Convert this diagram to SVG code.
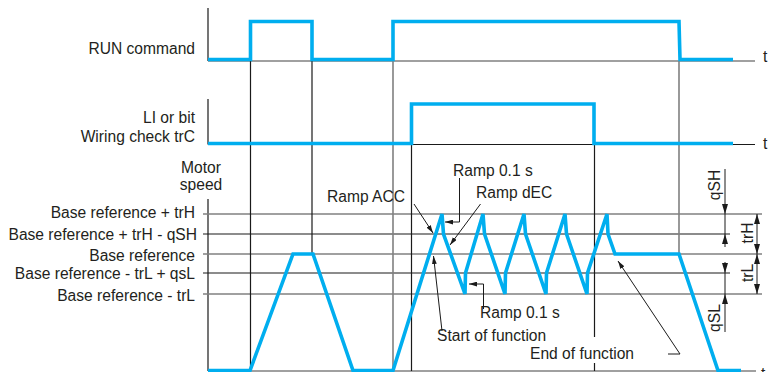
<svg xmlns="http://www.w3.org/2000/svg" width="776" height="372" viewBox="0 0 776 372">
<style>
  text { font-family: "Liberation Sans", Arial, sans-serif; font-size: 15.6px; fill: #231f20; }
  .end { text-anchor: end; }
  .mid { text-anchor: middle; }
  .blk { stroke: #1a1a1a; stroke-width: 1.2; fill: none; }
  .gry { stroke: #808080; stroke-width: 1.6; fill: none; }
  .sig { stroke: #00aeef; stroke-width: 3.6; fill: none; stroke-linejoin: miter; }
  .ldr { stroke: #1a1a1a; stroke-width: 1; fill: none; }
</style>
<defs>
  <marker id="ah" viewBox="0 0 10 6" refX="10" refY="3" markerWidth="8" markerHeight="5" orient="auto" markerUnits="userSpaceOnUse">
    <path d="M0,0 L10,3 L0,6 z" fill="#1a1a1a"/>
  </marker>
  <marker id="dh" viewBox="0 0 10 6" refX="10" refY="3" markerWidth="10" markerHeight="6" orient="auto" markerUnits="userSpaceOnUse">
    <path d="M0,0 L10,3 L0,6 z" fill="#1a1a1a"/>
  </marker>
</defs>

<g id="labels">
  <text class="end" x="195" y="54">RUN command</text>
  <text class="end" x="195" y="123">LI or bit</text>
  <text class="end" x="195" y="142">Wiring check trC</text>
  <text class="mid" x="201" y="173">Motor</text>
  <text class="mid" x="201" y="190">speed</text>
  <text class="end" x="195" y="218">Base reference + trH</text>
  <text class="end" x="197" y="239.5">Base reference + trH - qSH</text>
  <text class="end" x="195" y="261">Base reference</text>
  <text class="end" x="195" y="279">Base reference - trL + qsL</text>
  <text class="end" x="195" y="300.5">Base reference - trL</text>
  <text x="763" y="62">t</text>
  <text x="763" y="149">t</text>
  <text x="761" y="379">t</text>
</g>

<g id="axes">
  <line class="blk" x1="208" y1="8" x2="208" y2="61"/>
  <line class="gry" x1="208" y1="61" x2="755" y2="61"/>
  <line class="blk" x1="208" y1="99" x2="208" y2="144.5"/>
  <line class="blk" x1="208" y1="144.5" x2="755" y2="144.5"/>
  <line class="blk" x1="208" y1="199" x2="208" y2="371"/>
  <line class="gry" x1="208" y1="371" x2="756" y2="371"/>
  <line class="gry" x1="203" y1="214" x2="762" y2="214"/>
  <line class="blk" x1="203" y1="234" x2="730" y2="234"/>
  <line class="gry" x1="203" y1="254" x2="762" y2="254"/>
  <line class="blk" x1="203" y1="273" x2="730" y2="273"/>
  <line class="gry" x1="203" y1="294" x2="762" y2="294"/>
</g>

<g id="time-markers">
  <line class="blk" x1="250.5" y1="61" x2="250.5" y2="371"/>
  <line class="blk" x1="312" y1="61" x2="312" y2="254"/>
  <line class="gry" x1="393" y1="61" x2="393" y2="371"/>
  <line class="blk" x1="411.5" y1="144" x2="411.5" y2="371"/>
  <line class="blk" x1="594.5" y1="144" x2="594.5" y2="337"/>
  <line class="blk" x1="594.5" y1="363" x2="594.5" y2="371"/>
  <line class="gry" x1="679" y1="61" x2="679" y2="254"/>
</g>

<g id="signals">
  <path class="sig" d="M208,59.5 H250.5 V21.5 H312 V59.5 H393 V21.5 H679 L680,59.5 H733"/>
  <path class="sig" d="M208,143.5 H411.5 V104 H594 V143.5 H733"/>
  <path class="sig" d="M208,370.5 H250 L293,254 H313 L353,370.5 H393 L442,214 L443.5,234 L465,294 L465.5,273 L483,214 L484.5,234 L505,294 L505.5,273 L524,214 L525.5,234 L546,294 L546.5,273 L565,214 L566.5,234 L587,294 L587.5,273 L607,214 L608,234 L615,254 H679 L718,370.5 H741"/>
</g>

<g id="annotations">
  <text x="327" y="201.5">Ramp ACC</text>
  <text x="453" y="175.5">Ramp 0.1 s</text>
  <text x="476" y="198">Ramp dEC</text>
  <text x="480" y="318">Ramp 0.1 s</text>
  <text x="437" y="341">Start of function</text>
  <text x="530" y="359">End of function</text>
</g>

<g id="connectors">
  <path class="ldr" d="M414,204 L433,233" marker-end="url(#ah)"/>
  <path class="ldr" d="M459.5,178 V222 H445" marker-end="url(#ah)"/>
  <path class="ldr" d="M480.5,204 L450,245" marker-end="url(#ah)"/>
  <path class="ldr" d="M483.5,309 V284 H469" marker-end="url(#ah)"/>
  <path class="ldr" d="M442,331 L433.5,256" marker-end="url(#ah)"/>
  <path class="ldr" d="M668,354 H680 L618,261" marker-end="url(#ah)"/>
</g>

<g id="dimensions">
  <path class="ldr" d="M725,169 V214" marker-end="url(#dh)"/>
  <line class="ldr" x1="725" y1="214" x2="725" y2="234"/>
  <path class="ldr" d="M725,247 V234" marker-end="url(#dh)"/>
  <path class="ldr" d="M725,262 V273" marker-end="url(#dh)"/>
  <line class="ldr" x1="725" y1="273" x2="725" y2="294"/>
  <path class="ldr" d="M725,332 V294" marker-end="url(#dh)"/>
  <path class="ldr" d="M757,234 V214" marker-end="url(#dh)"/>
  <path class="ldr" d="M757,234 V254" marker-end="url(#dh)"/>
  <path class="ldr" d="M757,274 V254" marker-end="url(#dh)"/>
  <path class="ldr" d="M757,274 V294" marker-end="url(#dh)"/>
  <text class="mid" transform="translate(719.5,185) rotate(-90)">qSH</text>
  <text class="mid" transform="translate(753,233) rotate(-90)">trH</text>
  <text class="mid" transform="translate(753,273) rotate(-90)">trL</text>
  <text class="mid" transform="translate(719.5,318) rotate(-90)">qSL</text>
</g>
</svg>
